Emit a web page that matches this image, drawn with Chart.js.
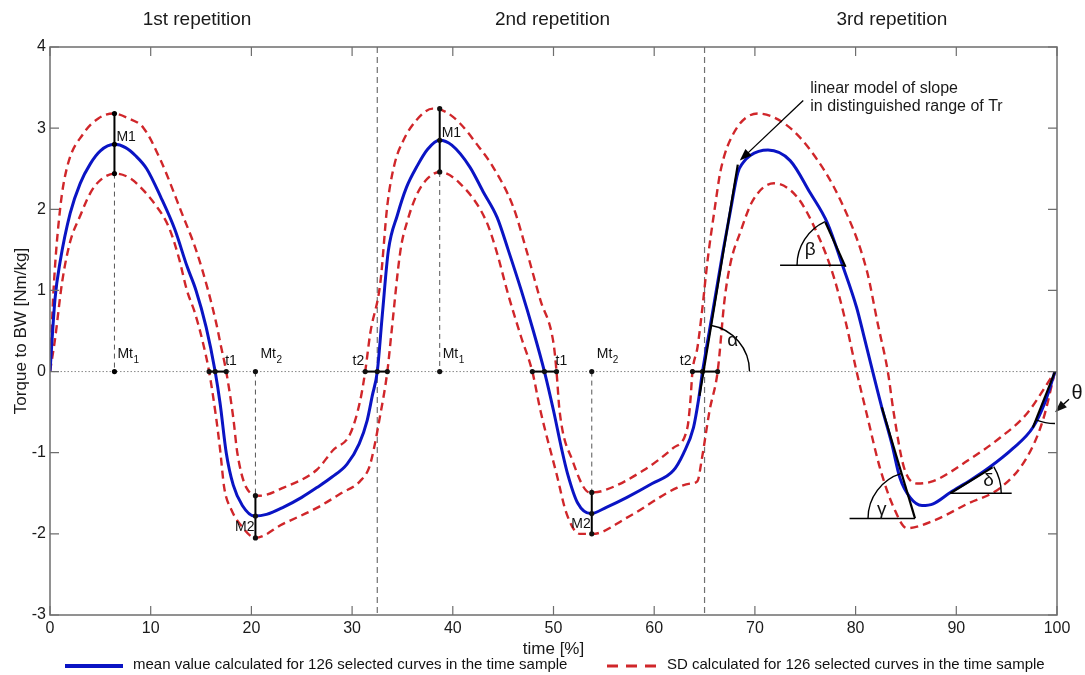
<!DOCTYPE html>
<html>
<head>
<meta charset="utf-8">
<script src="https://cdn.jsdelivr.net/npm/chart.js@4.4.0/dist/chart.umd.min.js"></script>
<style>
  html, body { margin: 0; padding: 0; background: #fff; }
</style>
</head>
<body>
<canvas id="torque" width="1085" height="675"></canvas>
<script>
// values: time [%] / torque to BW [Nm/kg]
const meanTime = [0, 0.5, 1, 2, 3, 4, 5, 6.4, 7.5, 8.5, 9.6, 11, 12.4, 13.6, 14.5, 15.5, 16.4, 16.9, 17.5, 18.2,
  19.1, 20.3, 21.5, 23.2, 25, 26.5, 28, 29.5, 30.7, 31.5, 32, 32.5, 33, 33.6, 34.5, 35.4, 36.4, 37.5, 38.7, 39.9,
  41.7, 43, 44.4, 45.5, 46.8, 48, 49.1, 50, 50.8, 51.4, 52.4, 53.7, 55.3, 57.3, 59.8, 61.9, 62.9, 63.9, 64.4, 64.8,
  65.8, 66.8, 67.6, 68.3, 68.8, 69.5, 71.3, 73.5, 75.5, 77.2, 78.7, 80.1, 80.8, 81.7, 82.6, 83.6, 84.4, 85.4, 86.6,
  87.7, 89.4, 91.4, 93.3, 95.6, 97.6, 98.8, 99.8];
const meanTorque = [0, 0.9, 1.35, 1.95, 2.32, 2.56, 2.72, 2.8, 2.76, 2.66, 2.5, 2.15, 1.75, 1.3, 1.0, 0.55, 0, -0.4, -1.0, -1.4,
  -1.65, -1.78, -1.76, -1.67, -1.55, -1.43, -1.3, -1.14, -0.89, -0.6, -0.3, 0, 0.7, 1.49, 1.93, 2.27, 2.52, 2.74, 2.85, 2.79,
  2.52, 2.22, 1.9, 1.5, 1.0, 0.5, 0, -0.48, -0.95, -1.26, -1.62, -1.75, -1.67, -1.55, -1.38, -1.22, -1.01, -0.69, -0.35, 0,
  0.73, 1.46, 2.0, 2.45, 2.57, 2.66, 2.73, 2.6, 2.2, 1.83, 1.31, 0.79, 0.45, 0, -0.44, -0.89, -1.31, -1.55, -1.65,
  -1.63, -1.49, -1.34, -1.18, -0.95, -0.69, -0.38, 0];

const upperTime = [0, 0.35, 1, 1.7, 3.3, 4.8, 6.3, 7.8, 9.3, 11, 13.1, 14.5, 15.7, 16.5, 17, 17.5, 18.2, 18.6, 19.5, 20.8,
  23.2, 26.5, 28.1, 29.8, 30.8, 31.3, 31.8, 32.8, 33.5, 34.2, 35.1, 36.4, 38, 39.3, 40.7, 42.4, 44, 46, 47.3, 48.7,
  50, 50.3, 50.6, 51.9, 53.6, 54.9, 58.9, 61.9, 63.3, 63.6, 63.8, 64.3, 64.8, 65.3, 66, 66.6, 67.9, 70.3, 72.9, 75.5,
  78.5, 81.1, 82.2, 83.2, 83.8, 84.8, 86.1, 87.7, 91.1, 94.4, 97, 99.8];
const upperTorque = [0, 1.0, 2.0, 2.52, 2.93, 3.12, 3.18, 3.12, 3.0, 2.6, 1.95, 1.5, 1.0, 0.6, 0.3, 0, -0.57, -1.0, -1.43, -1.53,
  -1.43, -1.21, -0.97, -0.77, -0.36, 0, 0.47, 1.09, 2.05, 2.55, 2.85, 3.1, 3.24, 3.2, 3.06, 2.8, 2.52, 2.03, 1.5, 0.88,
  0.35, 0, -0.48, -1.1, -1.49, -1.47, -1.22, -0.94, -0.69, -0.35, 0, 0.3, 0.8, 1.37, 2.0, 2.48, 2.94, 3.18, 3.06, 2.73,
  2.11, 1.25, 0.59, 0, -0.52, -1.18, -1.38, -1.35, -1.1, -0.81, -0.52, 0];

const lowerTime = [0, 0.5, 1.2, 2, 3, 4, 5, 6.5, 8, 9, 10.5, 11.8, 12.8, 13.6, 14.4, 15.2, 15.8, 16.5, 16.9, 17.3,
  18, 19, 20.4, 23.1, 26.5, 28.9, 30.8, 31.7, 32.2, 32.7, 33.5, 33.9, 34.8, 35.5, 36.5, 37.5, 38.7, 40.7, 43.3, 44.3,
  45.5, 46.8, 47.9, 48.7, 50.3, 51.3, 52.6, 53.9, 57.3, 62.3, 63.6, 64.3, 64.7, 65.5, 66.3, 67, 67.6, 68.5, 69.8, 71.9,
  74.2, 76.2, 77.8, 79, 80.1, 81.1, 82.4, 83.8, 85.1, 87.7, 91.1, 94.4, 97, 98.6, 99.8];
const lowerTorque = [0, 0.4, 1.1, 1.6, 1.92, 2.2, 2.36, 2.44, 2.38, 2.27, 2.05, 1.78, 1.4, 1.0, 0.72, 0.35, 0, -0.57, -0.97, -1.43,
  -1.7, -1.9, -2.05, -1.88, -1.68, -1.5, -1.35, -1.18, -0.93, -0.6, 0, 0.47, 1.49, 1.86, 2.2, 2.38, 2.46, 2.32, 1.86, 1.5,
  0.95, 0.42, 0, -0.48, -1.26, -1.75, -2.0, -2.0, -1.8, -1.43, -1.38, -1.35, -1.1, -0.48, 0, 0.9, 1.35, 1.7, 2.11, 2.32,
  2.15, 1.7, 1.18, 0.62, 0, -0.52, -1.18, -1.68, -1.93, -1.84, -1.63, -1.43, -1.06, -0.6, 0];

const xTicks = [0, 10, 20, 30, 40, 50, 60, 70, 80, 90, 100];
const yTicks = [-3, -2, -1, 0, 1, 2, 3, 4];
const repetitions = ["1st repetition", "2nd repetition", "3rd repetition"];
const repetitionCentre = [14.6, 49.9, 83.6];
const repetitionBounds = [32.5, 65];

// per repetition: time of max / min and SD range at those times
const mt1Time = [6.4, 38.7];
const m1Range = [[2.44, 2.8, 3.18], [2.46, 2.85, 3.24]];
const mt2Time = [20.4, 53.8];
const m2Range = [[-1.53, -1.78, -2.05], [-1.49, -1.75, -2.0]];
const t1Cross = [[15.8, 16.4, 17.5], [47.9, 49.1, 50.3]];
const t2Cross = [[31.3, 32.5, 33.5], [63.8, 64.8, 66.3]];

const FONT = "'Liberation Sans', Arial, sans-serif";
const BLUE = "#0a14c4";
const RED = "#d0262a";

const toPts = (xs, ys) => xs.map((x, i) => ({ x: x, y: ys[i] }));

function arcBetween(ctx, cx, cy, r, a1, a2) {
  let d = a2 - a1;
  while (d > Math.PI) d -= 2 * Math.PI;
  while (d < -Math.PI) d += 2 * Math.PI;
  ctx.beginPath();
  ctx.arc(cx, cy, r, a1, a1 + d, d < 0);
  ctx.stroke();
}

function subText(ctx, main, sub, x, y, size) {
  ctx.font = size + "px " + FONT;
  ctx.textAlign = "left";
  ctx.textBaseline = "middle";
  ctx.fillText(main, x, y);
  const w = ctx.measureText(main).width;
  ctx.font = Math.round(size * 0.72) + "px " + FONT;
  ctx.fillText(sub, x + w + 0.5, y + size * 0.4);
}

function dot(ctx, x, y) {
  ctx.beginPath();
  ctx.arc(x, y, 2.6, 0, 2 * Math.PI);
  ctx.fill();
}

function arrow(ctx, x1, y1, x2, y2) {
  const a = Math.atan2(y2 - y1, x2 - x1);
  ctx.beginPath();
  ctx.moveTo(x1, y1);
  ctx.lineTo(x2 - 8 * Math.cos(a), y2 - 8 * Math.sin(a));
  ctx.stroke();
  ctx.beginPath();
  ctx.moveTo(x2, y2);
  ctx.lineTo(x2 - 12 * Math.cos(a) + 4.5 * Math.sin(a), y2 - 12 * Math.sin(a) - 4.5 * Math.cos(a));
  ctx.lineTo(x2 - 12 * Math.cos(a) - 4.5 * Math.sin(a), y2 - 12 * Math.sin(a) + 4.5 * Math.cos(a));
  ctx.closePath();
  ctx.fill();
}

// markers, angles, frame and legend
const figureParts = {
  id: "figureParts",
  beforeDatasetsDraw(chart) {
    const { ctx, chartArea: a, scales } = chart;
    const X = (v) => scales.x.getPixelForValue(v);
    const Y = (v) => scales.y.getPixelForValue(v);
    ctx.save();
    // zero line
    ctx.strokeStyle = "#8a8a8a";
    ctx.lineWidth = 1;
    ctx.setLineDash([1.5, 2]);
    ctx.beginPath();
    ctx.moveTo(a.left, Y(0));
    ctx.lineTo(a.right, Y(0));
    ctx.stroke();
    // repetition borders
    ctx.strokeStyle = "#707070";
    ctx.lineWidth = 1.2;
    ctx.setLineDash([6, 4]);
    repetitionBounds.forEach((b) => {
      ctx.beginPath();
      ctx.moveTo(X(b), a.top);
      ctx.lineTo(X(b), a.bottom);
      ctx.stroke();
    });
    // drop lines for Mt1 / Mt2
    ctx.strokeStyle = "#555";
    ctx.lineWidth = 1;
    ctx.setLineDash([5, 4]);
    mt1Time.forEach((t, i) => {
      ctx.beginPath();
      ctx.moveTo(X(t), Y(m1Range[i][0]));
      ctx.lineTo(X(t), Y(0));
      ctx.stroke();
    });
    mt2Time.forEach((t, i) => {
      ctx.beginPath();
      ctx.moveTo(X(t), Y(0));
      ctx.lineTo(X(t), Y(m2Range[i][0]));
      ctx.stroke();
    });
    ctx.restore();
  },
  afterDatasetsDraw(chart) {
    const { ctx, chartArea: a, scales } = chart;
    const X = (v) => scales.x.getPixelForValue(v);
    const Y = (v) => scales.y.getPixelForValue(v);
    ctx.save();
    ctx.setLineDash([]);
    ctx.strokeStyle = "#000";
    ctx.fillStyle = "#000";
    ctx.lineWidth = 2;

    // M1 / M2 bars with dots
    mt1Time.forEach((t, i) => {
      const r = m1Range[i];
      ctx.beginPath();
      ctx.moveTo(X(t), Y(r[0]));
      ctx.lineTo(X(t), Y(r[2]));
      ctx.stroke();
      r.forEach((v) => dot(ctx, X(t), Y(v)));
      dot(ctx, X(t), Y(0));
      ctx.fillStyle = "#111";
      ctx.font = "14px " + FONT;
      ctx.textAlign = "left";
      ctx.textBaseline = "middle";
      ctx.fillText("M1", X(t) + 2, Y(r[1]) - 7);
      subText(ctx, "Mt", "1", X(t) + 3, Y(0) - 17, 14);
    });
    mt2Time.forEach((t, i) => {
      const r = m2Range[i];
      ctx.beginPath();
      ctx.moveTo(X(t), Y(r[0]));
      ctx.lineTo(X(t), Y(r[2]));
      ctx.stroke();
      r.forEach((v) => dot(ctx, X(t), Y(v)));
      dot(ctx, X(t), Y(0));
      ctx.font = "14px " + FONT;
      ctx.textAlign = "right";
      ctx.textBaseline = "middle";
      ctx.fillText("M2", X(t) - 1, Y(r[1]) + 11);
      subText(ctx, "Mt", "2", X(t) + 5, Y(0) - 17, 14);
    });
    // t1 / t2 crossings
    [[t1Cross, "t1", 1], [t2Cross, "t2", -1]].forEach(([cross, name, side]) => {
      cross.forEach((c) => {
        ctx.beginPath();
        ctx.moveTo(X(c[0]), Y(0));
        ctx.lineTo(X(c[2]), Y(0));
        ctx.stroke();
        c.forEach((v) => dot(ctx, X(v), Y(0)));
        ctx.font = "14px " + FONT;
        ctx.textBaseline = "middle";
        ctx.textAlign = side > 0 ? "left" : "right";
        ctx.fillText(name, side > 0 ? X(c[2]) - 1 : X(c[0]) - 1, Y(0) - 10);
      });
    });

    // linear models of slope in the 3rd repetition
    const models = [
      { s: [64.5, -0.3], e: [68.3, 2.55], p: [64.8, 0], base: 0, r: 47, lbl: "α", at: [67.8, 0.38] },
      { s: [77.0, 1.84], e: [79.0, 1.29], p: [78.95, 1.31], base: Math.PI, h: [72.5, 78.95], r: 48, lbl: "β", at: [75.5, 1.5] },
      { s: [82.6, -0.44], e: [85.9, -1.81], p: [85.9, -1.81], base: Math.PI, h: [79.4, 85.9], r: 47, lbl: "γ", at: [82.6, -1.7] },
      { s: [89.4, -1.5], e: [93.6, -1.18], p: [89.4, -1.5], base: 0, h: [89.4, 95.5], r: 51, lbl: "δ", at: [93.2, -1.35] },
      { s: [97.6, -0.69], e: [99.8, 0], p: [99.8, 0], base: Math.PI / 2, r: 52, lbl: "", at: null }
    ];
    models.forEach((m) => {
      ctx.lineWidth = 2.2;
      ctx.beginPath();
      ctx.moveTo(X(m.s[0]), Y(m.s[1]));
      ctx.lineTo(X(m.e[0]), Y(m.e[1]));
      ctx.stroke();
      ctx.lineWidth = 1.4;
      if (m.h) {
        ctx.beginPath();
        ctx.moveTo(X(m.h[0]), Y(m.p[1]));
        ctx.lineTo(X(m.h[1]), Y(m.p[1]));
        ctx.stroke();
      }
      const cx = X(m.p[0]), cy = Y(m.p[1]);
      const far = Math.abs(X(m.s[0]) - cx) + Math.abs(Y(m.s[1]) - cy) > Math.abs(X(m.e[0]) - cx) + Math.abs(Y(m.e[1]) - cy) ? m.s : m.e;
      const ang = Math.atan2(Y(far[1]) - cy, X(far[0]) - cx);
      arcBetween(ctx, cx, cy, m.r, m.base, ang);
      if (m.at) {
        ctx.font = "19px " + FONT;
        ctx.textAlign = "center";
        ctx.textBaseline = "middle";
        ctx.fillText(m.lbl, X(m.at[0]), Y(m.at[1]));
      }
    });
    ctx.font = "20px " + FONT;
    ctx.textAlign = "center";
    ctx.textBaseline = "middle";
    ctx.fillText("θ", a.right + 20, Y(-0.27));
    ctx.lineWidth = 1.3;
    arrow(ctx, a.right + 12, Y(-0.34), a.right - 2, Y(-0.5));

    // note on the linear model
    ctx.font = "16px " + FONT;
    ctx.textAlign = "left";
    ctx.fillStyle = "#1a1a1a";
    ctx.fillText("linear model of slope", X(75.5), Y(3.49));
    ctx.fillText("in distinguished range of Tr", X(75.5), Y(3.27));
    ctx.fillStyle = "#000";
    arrow(ctx, X(74.8), Y(3.34), X(68.5), Y(2.6));

    // frame with inward ticks
    ctx.strokeStyle = "#6e6e6e";
    ctx.lineWidth = 1.5;
    ctx.strokeRect(a.left, a.top, a.right - a.left, a.bottom - a.top);
    ctx.lineWidth = 1.2;
    xTicks.forEach((t) => {
      ctx.beginPath();
      ctx.moveTo(X(t), a.bottom); ctx.lineTo(X(t), a.bottom - 9);
      ctx.moveTo(X(t), a.top); ctx.lineTo(X(t), a.top + 9);
      ctx.stroke();
    });
    yTicks.forEach((t) => {
      ctx.beginPath();
      ctx.moveTo(a.left, Y(t)); ctx.lineTo(a.left + 9, Y(t));
      ctx.moveTo(a.right, Y(t)); ctx.lineTo(a.right - 9, Y(t));
      ctx.stroke();
    });
    ctx.restore();
  },
  afterDraw(chart) {
    const { ctx, chartArea: a, scales } = chart;
    const X = (v) => scales.x.getPixelForValue(v);
    ctx.save();
    ctx.fillStyle = "#1a1a1a";
    ctx.textBaseline = "middle";
    ctx.textAlign = "center";
    ctx.font = "19px " + FONT;
    repetitions.forEach((r, i) => ctx.fillText(r, X(repetitionCentre[i]), a.top - 27));
    ctx.font = "17px " + FONT;
    ctx.fillText("time [%]", (a.left + a.right) / 2, a.bottom + 34);

    // legend
    const ds = chart.data.datasets;
    const items = [
      { d: ds[0], x0: 65, x1: 123, tx: 133 },
      { d: ds[1], x0: 607, x1: 661, tx: 667 }
    ];
    const ly = 666;
    items.forEach((it) => {
      ctx.strokeStyle = it.d.borderColor;
      ctx.lineWidth = it.d.borderDash ? 3.2 : 4.2;
      ctx.setLineDash(it.d.borderDash ? [11, 8] : []);
      ctx.beginPath();
      ctx.moveTo(it.x0, ly);
      ctx.lineTo(it.x1, ly);
      ctx.stroke();
      ctx.fillStyle = "#111";
      ctx.font = "15px " + FONT;
      ctx.textAlign = "left";
      ctx.fillText(it.d.label, it.tx, ly - 1);
    });
    ctx.restore();
  }
};

new Chart(document.getElementById("torque"), {
  type: "line",
  data: {
    datasets: [
      {
        label: "mean value calculated for 126 selected curves in the time sample",
        data: toPts(meanTime, meanTorque),
        borderColor: BLUE,
        borderWidth: 3,
        pointRadius: 0,
        cubicInterpolationMode: "monotone",
        order: 1,
      },
      {
        label: "SD calculated for 126 selected curves in the time sample",
        data: toPts(upperTime, upperTorque),
        borderColor: RED,
        borderWidth: 2.4,
        borderDash: [8, 5],
        pointRadius: 0,
        cubicInterpolationMode: "monotone",
        order: 2,
      },
      {
        label: "SD lower",
        data: toPts(lowerTime, lowerTorque),
        borderColor: RED,
        borderWidth: 2.4,
        borderDash: [8, 5],
        pointRadius: 0,
        cubicInterpolationMode: "monotone",
        order: 2,
      },
    ],
  },
  options: {
    responsive: false,
    animation: false,
    layout: { padding: { top: 47, right: 28, bottom: 30, left: 0 } },
    plugins: {
      legend: { display: false },
      tooltip: { enabled: false },
    },
    scales: {
      x: {
        type: "linear",
        min: 0,
        max: 100,
        grid: { display: false, drawTicks: false },
        border: { display: false },
        ticks: {
          stepSize: 10,
          padding: 4,
          maxRotation: 0,
          color: "#1a1a1a",
          font: { family: FONT, size: 16 },
        },
        afterFit: (s) => { s.height = 30; },
      },
      y: {
        min: -3,
        max: 4,
        grid: { display: false, drawTicks: false },
        border: { display: false },
        ticks: {
          stepSize: 1,
          padding: 4,
          color: "#1a1a1a",
          font: { family: FONT, size: 16 },
        },
        title: {
          display: true,
          text: "Torque to BW [Nm/kg]",
          color: "#1a1a1a",
          font: { family: FONT, size: 17 },
          padding: { top: 11, bottom: 0 },
        },
        afterFit: (s) => { s.width = 50; },
      },
    },
  },
  plugins: [figureParts],
});
</script>
</body>
</html>
